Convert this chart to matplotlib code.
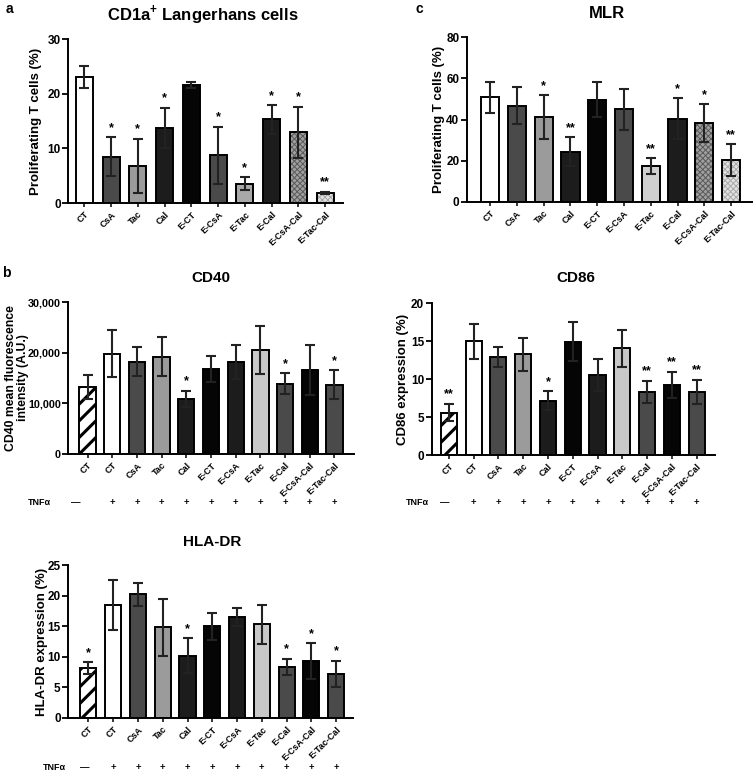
import numpy as np
import matplotlib
matplotlib.use("Agg")
import matplotlib.pyplot as plt
from matplotlib.ticker import FuncFormatter
from matplotlib.transforms import blended_transform_factory

plt.rcParams['font.family'] = 'Liberation Sans'
plt.rcParams['font.weight'] = 'bold'
plt.rcParams['mathtext.fontset'] = 'custom'
plt.rcParams['mathtext.bf'] = 'Liberation Sans:bold'
plt.rcParams['mathtext.rm'] = 'Liberation Sans:bold'
plt.rcParams['hatch.linewidth'] = 2.2

# ---------------------------------------------------------------
# data
groups_a = ["CT", "CsA", "Tac", "Cal", "E-CT", "E-CsA", "E-Tac", "E-Cal", "E-CsA-Cal", "E-Tac-Cal"]
groups_b = ["CT", "CT", "CsA", "Tac", "Cal", "E-CT", "E-CsA", "E-Tac", "E-Cal", "E-CsA-Cal", "E-Tac-Cal"]
tnf_signs = ["\u2014", "+", "+", "+", "+", "+", "+", "+", "+", "+", "+"]

lc_mean = [23.1, 8.5, 6.8, 13.7, 21.6, 8.7, 3.5, 15.3, 12.9, 1.8]
lc_err = [2.0, 3.5, 4.9, 3.7, 0.6, 5.2, 1.2, 2.6, 4.7, 0.2]
lc_sig = ["", "*", "*", "*", "", "*", "*", "*", "*", "**"]

mlr_mean = [50.8, 46.7, 41.1, 24.3, 49.6, 44.9, 17.3, 40.4, 38.1, 20.2]
mlr_err = [7.5, 8.9, 10.7, 7.0, 8.6, 9.9, 3.8, 9.9, 9.2, 7.7]
mlr_sig = ["", "", "*", "**", "", "", "**", "*", "*", "**"]

cd40_mean = [13200, 19800, 18200, 19200, 10900, 16800, 18200, 20500, 13900, 16600, 13700]
cd40_err = [2300, 4600, 2900, 3800, 1600, 2500, 3300, 4700, 2000, 4900, 2800]
cd40_sig = ["", "", "", "", "*", "", "", "", "*", "", "*"]

cd86_mean = [5.6, 15.0, 12.95, 13.25, 7.15, 14.95, 10.6, 14.05, 8.3, 9.2, 8.3]
cd86_err = [1.15, 2.3, 1.35, 2.2, 1.25, 2.6, 2.1, 2.4, 1.45, 1.75, 1.6]
cd86_sig = ["**", "", "", "", "*", "", "", "", "**", "**", "**"]

hla_mean = [8.15, 18.5, 20.2, 14.8, 10.2, 15.0, 16.5, 15.3, 8.4, 9.3, 7.2]
hla_err = [0.95, 4.1, 1.9, 4.6, 2.8, 2.2, 1.4, 3.2, 1.3, 2.9, 2.1]
hla_sig = ["*", "", "", "", "*", "", "", "", "*", "*", "*"]

# bar fills (colour, hatch, hatch colour)
fill_a = ["white", "#4a4a4a", "#9b9b9b", "#1c1c1c", "#050505", "#4a4a4a", "#a9a9a9", "#1c1c1c", "#a0a0a0", "#e2e2e2"]
hatch_a = ["", "", "", "", "", "", "", "", "xxxxxx", "xxxxxx"]
fill_c = ["white", "#4a4a4a", "#9b9b9b", "#1c1c1c", "#050505", "#4a4a4a", "#cfcfcf", "#1c1c1c", "#a0a0a0", "#e2e2e2"]
hatch_col_ac = ["", "", "", "", "", "", "", "", "#5a5a5a", "#a8a8a8"]
fill_b = ["white", "white", "#4a4a4a", "#9b9b9b", "#1c1c1c", "#050505", "#1c1c1c", "#c8c8c8", "#4a4a4a", "#050505", "#4a4a4a"]
hatch_b = ["//", "", "", "", "", "", "", "", "", "", ""]
hatch_col_b = ["black", "", "", "", "", "", "", "", "", "", ""]

W, H = 754, 774
fig = plt.figure(figsize=(W / 100, H / 100), dpi=100)


def make_ax(left, right, y0, ytop):
    return fig.add_axes([left / W, 1 - y0 / H, (right - left) / W, (y0 - ytop) / H])


def draw_panel(ax, names, means, errs, sig, fills, hatches, hcols, ymax, yticks, xlim, width=0.66):
    x = np.arange(len(names))
    for i in range(len(names)):
        if hatches[i]:
            p = ax.bar(x[i], means[i], width, color=fills[i], hatch=hatches[i],
                       edgecolor=hcols[i], linewidth=0, zorder=2)
            if "x" in hatches[i]:
                for b in p:
                    if hasattr(b, "set_hatch_linewidth"):
                        b.set_hatch_linewidth(0.7)
            ax.bar(x[i], means[i], width, fill=False, edgecolor="black", linewidth=1.4, zorder=2.5)
        else:
            ax.bar(x[i], means[i], width, color=fills[i], edgecolor="black", linewidth=1.4, zorder=2)
    ax.errorbar(x, means, yerr=errs, fmt="none", ecolor="#222222", elinewidth=1.5,
                capsize=3.6, capthick=1.5, zorder=3)
    for i in range(len(names)):
        if sig[i]:
            ax.annotate(sig[i], (x[i], means[i] + errs[i]), xytext=(0, 2.5),
                        textcoords="offset points", ha="center", va="bottom",
                        fontsize=9, fontweight="bold")
    ax.set_xlim(*xlim)
    ax.set_ylim(0, ymax)
    ax.set_yticks(yticks)
    ax.set_xticks(x)
    ax.set_xticklabels(names, rotation=45, ha="right", rotation_mode="anchor", fontsize=6.5)
    ax.tick_params(axis="y", labelsize=8.5, width=1.3, length=4, pad=1.5)
    ax.tick_params(axis="x", width=1.1, length=3, pad=2)
    for s in ["top", "right"]:
        ax.spines[s].set_visible(False)
    for s in ["left", "bottom"]:
        ax.spines[s].set_linewidth(1.4)
    ax.set_facecolor("none")


def tnf_row(ax, y_axes, x_label, x_minus):
    tr = blended_transform_factory(ax.transData, ax.transAxes)
    ax.text(x_label, y_axes, "TNF\u03b1", transform=tr, ha="right", va="center", fontsize=6.5)
    for i, s in enumerate(tnf_signs):
        xi = x_minus if i == 0 else i
        ax.text(xi, y_axes, s, transform=tr, ha="center", va="center", fontsize=6.8)


def ylab(x_px, ax, text, size=9.5):
    b = ax.get_position()
    fig.text(x_px / W, b.y0 + b.height / 2, text, rotation=90, ha="center", va="center",
             fontsize=size, fontweight="bold", linespacing=0.95)


# a: CD1a+ Langerhans cells
ax_a = make_ax(68.3, 343, 203, 39)
draw_panel(ax_a, groups_a, lc_mean, lc_err, lc_sig, fill_a, hatch_a, hatch_col_ac,
           30, [0, 10, 20, 30], (-0.6, 9.67), width=0.64)
ylab(36, ax_a, "Proliferating T cells (%)")

# c: MLR
ax_c = make_ax(467, 752, 202, 37)
draw_panel(ax_c, groups_a, mlr_mean, mlr_err, mlr_sig, fill_c, hatch_a, hatch_col_ac,
           80, [0, 20, 40, 60, 80], (-0.86, 9.78), width=0.68)
ylab(439, ax_c, "Proliferating T cells (%)")

# b: CD40
ax_40 = make_ax(68, 354, 454, 302)
draw_panel(ax_40, groups_b, cd40_mean, cd40_err, cd40_sig, fill_b, hatch_b, hatch_col_b,
           30000, [0, 10000, 20000, 30000], (-0.79, 10.79), width=0.66)
ax_40.yaxis.set_major_formatter(FuncFormatter(lambda v, p: f"{int(v):,}"))
ax_40.tick_params(axis="y", labelsize=7.8, pad=1)
ylab(17, ax_40, "CD40 mean fluorescence\nintensity (A.U.)", size=8.8)
tnf_row(ax_40, -0.32, -1.5, -0.48)

# CD86
ax_86 = make_ax(431.7, 715, 455, 303.3)
draw_panel(ax_86, groups_b, cd86_mean, cd86_err, cd86_sig, fill_b, hatch_b, hatch_col_b,
           20, [0, 5, 10, 15, 20], (-0.69, 10.74), width=0.65)
ylab(403, ax_86, "CD86 expression (%)")
tnf_row(ax_86, -0.316, -0.8, -0.15)

# HLA-DR
ax_hla = make_ax(68.3, 353.3, 718, 565)
draw_panel(ax_hla, groups_b, hla_mean, hla_err, hla_sig, fill_b, hatch_b, hatch_col_b,
           25, [0, 5, 10, 15, 20, 25], (-0.81, 10.69), width=0.65)
ylab(42, ax_hla, "HLA-DR expression (%)")
tnf_row(ax_hla, -0.325, -0.92, -0.13)

# titles and panel letters
fig.text(203 / W, 1 - 14 / H, r"CD1a$^{\mathbf{+}}$ Langerhans cells", ha="center", va="center", fontsize=12)
fig.text(607 / W, 1 - 13 / H, "MLR", ha="center", va="center", fontsize=12)
fig.text(211 / W, 1 - 278 / H, "CD40", ha="center", va="center", fontsize=11)
fig.text(576 / W, 1 - 278 / H, "CD86", ha="center", va="center", fontsize=11)
fig.text(212 / W, 1 - 542 / H, "HLA-DR", ha="center", va="center", fontsize=11)
fig.text(9 / W, 1 - 9 / H, "a", ha="center", va="center", fontsize=10)
fig.text(419 / W, 1 - 9 / H, "c", ha="center", va="center", fontsize=10)
fig.text(6 / W, 1 - 273 / H, "b", ha="center", va="center", fontsize=10)

fig.savefig("out.png", dpi=100)
